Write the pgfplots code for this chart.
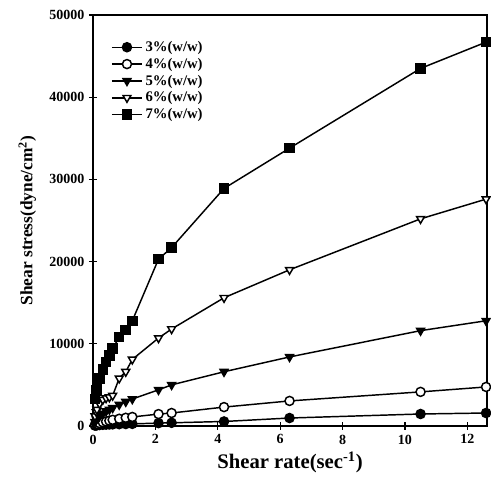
\documentclass[border=0pt]{standalone}
\usepackage{fontspec}
\setmainfont{Liberation Serif}
\usepackage{pgfplots}
\pgfplotsset{compat=1.18}
\begin{document}
\begin{tikzpicture}
\begin{axis}[
  scale only axis,
  width=295.5pt, height=308.25pt,
  xmin=0, xmax=12.63, ymin=0, ymax=50000,
  xtick={0,2,4,6,8,10,12},
  ytick={0,10000,20000,30000,40000,50000},
  scaled y ticks=false,
  /pgf/number format/1000 sep={},
  /pgf/number format/assume math mode=true,
  tick label style={font=\fontsize{10.5}{12}\selectfont\bfseries},
  xtick pos=left, ytick pos=left,
  tick align=center,
  major tick length=6pt,
  axis line style={line width=1.1pt},
  every tick/.style={line width=0.9pt, black},
  xlabel={Shear rate(sec\textsuperscript{-1})},
  ylabel={Shear stress(dyne/cm\textsuperscript{2})},
  xlabel style={font=\fontsize{15.5}{17}\selectfont\bfseries, yshift=1pt},
  ylabel style={font=\fontsize{13}{15}\selectfont\bfseries, yshift=3pt},
  legend style={draw=none, fill=none, at={(0.035,0.95)}, anchor=north west,
    font=\fontsize{11}{12}\selectfont\bfseries, row sep=-0.5pt,
    legend cell align=left},
  legend image code/.code={\draw[mark repeat=2,mark phase=2] plot coordinates {(0cm,0cm)(0.4cm,0cm)(0.8cm,0cm)};},
  every axis plot/.append style={line width=1.1pt, black, mark size=3.4pt},
]
\addplot[mark=*, mark options={fill=black}] coordinates {
(0.063,50)(0.105,80)(0.126,90)(0.21,120)(0.315,150)(0.42,170)(0.525,190)(0.63,200)(0.84,220)(1.05,240)(1.26,260)(2.1,350)(2.52,390)(4.2,550)(6.3,970)(10.5,1460)(12.6,1580)};
\addlegendentry{3\%(w/w)}
\addplot[mark=*, mark options={fill=white}] coordinates {
(0.063,150)(0.105,220)(0.126,260)(0.21,350)(0.315,450)(0.42,550)(0.525,650)(0.63,750)(0.84,880)(1.05,1000)(1.26,1100)(2.1,1450)(2.52,1580)(4.2,2300)(6.3,3050)(10.5,4150)(12.6,4750)};
\addlegendentry{4\%(w/w)}
\addplot[mark=triangle*, mark options={rotate=180, fill=black}] coordinates {
(0.063,500)(0.105,800)(0.126,900)(0.21,1200)(0.315,1500)(0.42,1800)(0.525,2000)(0.63,2200)(0.84,2600)(1.05,2950)(1.26,3280)(2.1,4400)(2.52,5000)(4.2,6600)(6.3,8400)(10.5,11600)(12.6,12800)};
\addlegendentry{5\%(w/w)}
\addplot[mark=triangle*, mark options={rotate=180, fill=white}] coordinates {
(0.063,1200)(0.105,1700)(0.126,2000)(0.21,2700)(0.315,3200)(0.42,3400)(0.525,3500)(0.63,3700)(0.84,5800)(1.05,6600)(1.26,8100)(2.1,10700)(2.52,11800)(4.2,15600)(6.3,19000)(10.5,25200)(12.6,27600)};
\addlegendentry{6\%(w/w)}
\addplot[mark=square*, mark options={fill=black}] coordinates {
(0.063,3300)(0.105,4300)(0.126,4800)(0.21,5800)(0.315,6900)(0.42,7800)(0.525,8600)(0.63,9400)(0.84,10800)(1.05,11700)(1.26,12800)(2.1,20300)(2.52,21700)(4.2,28900)(6.3,33800)(10.5,43500)(12.6,46700)};
\addlegendentry{7\%(w/w)}
\end{axis}
\path ([shift={(-69.75pt,-42.75pt)}]current axis.south west) rectangle ([shift={(3pt,11.25pt)}]current axis.north east);
\end{tikzpicture}
\end{document}
